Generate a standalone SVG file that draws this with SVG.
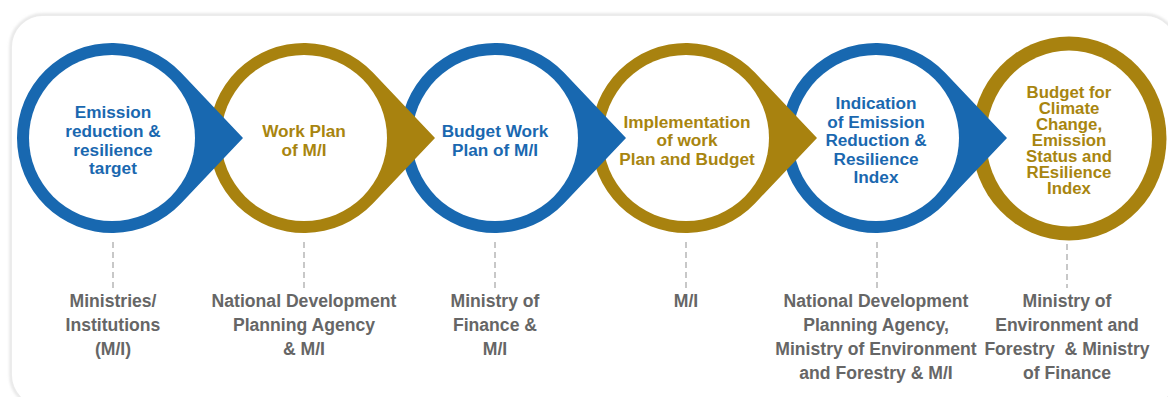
<svg xmlns="http://www.w3.org/2000/svg" width="1168" height="397" viewBox="0 0 1168 397">
<defs>
<filter id="soft" x="-5%" y="-5%" width="110%" height="110%"><feGaussianBlur stdDeviation="1.5"/></filter>
<style>
.blue{fill:#1868b0}
.gold{fill:#a8820f}
.inner{fill:#ffffff}
.ct{font-family:"Liberation Sans",Arial,sans-serif;font-weight:bold;font-size:17.2px;text-anchor:middle}
.ctb{fill:#1a68b0}
.ctg{fill:#a8850f}
.lbl{font-family:"Liberation Sans",Arial,sans-serif;font-weight:bold;font-size:17.6px;text-anchor:middle;fill:#666666}
.dash{stroke:#c8c8c8;stroke-width:2;stroke-dasharray:6 4;fill:none}
</style>
</defs>
<rect x="0" y="0" width="1168" height="397" fill="#ffffff"/>
<rect x="11" y="15" width="1166" height="392" rx="32" fill="#ffffff" stroke="#dcdcdc" stroke-width="2.5" filter="url(#soft)"/>
<rect x="12" y="16" width="1164" height="390" rx="31" fill="#ffffff"/>

<g id="connectors">
<line class="dash" x1="113" y1="242" x2="113" y2="288"/>
<line class="dash" x1="304" y1="242" x2="304" y2="288"/>
<line class="dash" x1="495" y1="242" x2="495" y2="288"/>
<line class="dash" x1="686" y1="242" x2="686" y2="288"/>
<line class="dash" x1="877" y1="242" x2="877" y2="288"/>
<line class="dash" x1="1067" y1="244" x2="1067" y2="288"/>
</g>

<g id="node6">
<ellipse class="gold" cx="1069" cy="138.5" rx="97.5" ry="102"/>
<ellipse class="inner" cx="1069" cy="138.5" rx="83" ry="88"/>
<text class="ct ctg" style="font-size:16.8px" x="1069"><tspan x="1069" y="98">Budget for</tspan><tspan x="1069" y="114">Climate</tspan><tspan x="1069" y="130">Change,</tspan><tspan x="1069" y="146">Emission</tspan><tspan x="1069" y="162">Status and</tspan><tspan x="1069" y="178">REsilience</tspan><tspan x="1069" y="194">Index</tspan></text>
</g>

<g id="node5">
<path class="blue" d="M944.9 72.6 L1007 138 L944.9 203.4 A95 95 0 1 1 944.9 72.6 Z"/>
<circle class="inner" cx="876" cy="138" r="83"/>
<text class="ct ctb"><tspan x="876" y="109">Indication</tspan><tspan x="876" y="127.5">of Emission</tspan><tspan x="876" y="146">Reduction &amp;</tspan><tspan x="876" y="164.5">Resilience</tspan><tspan x="876" y="183">Index</tspan></text>
</g>

<g id="node4">
<path class="gold" d="M754.9 72.6 L817 138 L754.9 203.4 A95 95 0 1 1 754.9 72.6 Z"/>
<circle class="inner" cx="686" cy="138" r="83"/>
<text class="ct ctg"><tspan x="687" y="128">Implementation</tspan><tspan x="687" y="146">of work</tspan><tspan x="687" y="165">Plan and Budget</tspan></text>
</g>

<g id="node3">
<path class="blue" d="M563.9 72.6 L626 138 L563.9 203.4 A95 95 0 1 1 563.9 72.6 Z"/>
<circle class="inner" cx="495" cy="138" r="83"/>
<text class="ct ctb"><tspan x="495" y="137">Budget Work</tspan><tspan x="495" y="156">Plan of M/I</tspan></text>
</g>

<g id="node2">
<path class="gold" d="M372.9 72.6 L435 138 L372.9 203.4 A95 95 0 1 1 372.9 72.6 Z"/>
<circle class="inner" cx="304" cy="138" r="83"/>
<text class="ct ctg"><tspan x="304" y="137">Work Plan</tspan><tspan x="304" y="156">of M/I</tspan></text>
</g>

<g id="node1">
<path class="blue" d="M180.9 72.6 L243 138 L180.9 203.4 A95 95 0 1 1 180.9 72.6 Z"/>
<circle class="inner" cx="112" cy="138" r="83"/>
<text class="ct ctb"><tspan x="113" y="118">Emission</tspan><tspan x="113" y="137">reduction &amp;</tspan><tspan x="113" y="156">resilience</tspan><tspan x="113" y="174">target</tspan></text>
</g>

<g id="label1"><text class="lbl"><tspan x="113" y="307">Ministries/</tspan><tspan x="113" y="331">Institutions</tspan><tspan x="113" y="355">(M/I)</tspan></text></g>
<g id="label2"><text class="lbl"><tspan x="304" y="307">National Development</tspan><tspan x="304" y="331">Planning Agency</tspan><tspan x="304" y="355">&amp; M/I</tspan></text></g>
<g id="label3"><text class="lbl"><tspan x="495" y="307">Ministry of</tspan><tspan x="495" y="331">Finance &amp;</tspan><tspan x="495" y="355">M/I</tspan></text></g>
<g id="label4"><text class="lbl"><tspan x="686" y="307">M/I</tspan></text></g>
<g id="label5"><text class="lbl"><tspan x="876" y="307">National Development</tspan><tspan x="876" y="331">Planning Agency,</tspan><tspan x="876" y="355">Ministry of Environment</tspan><tspan x="876" y="379">and Forestry &amp; M/I</tspan></text></g>
<g id="label6"><text class="lbl" xml:space="preserve"><tspan x="1067" y="307">Ministry of</tspan><tspan x="1067" y="331">Environment and</tspan><tspan x="1067" y="355">Forestry  &amp; Ministry</tspan><tspan x="1067" y="379">of Finance</tspan></text></g>
</svg>
